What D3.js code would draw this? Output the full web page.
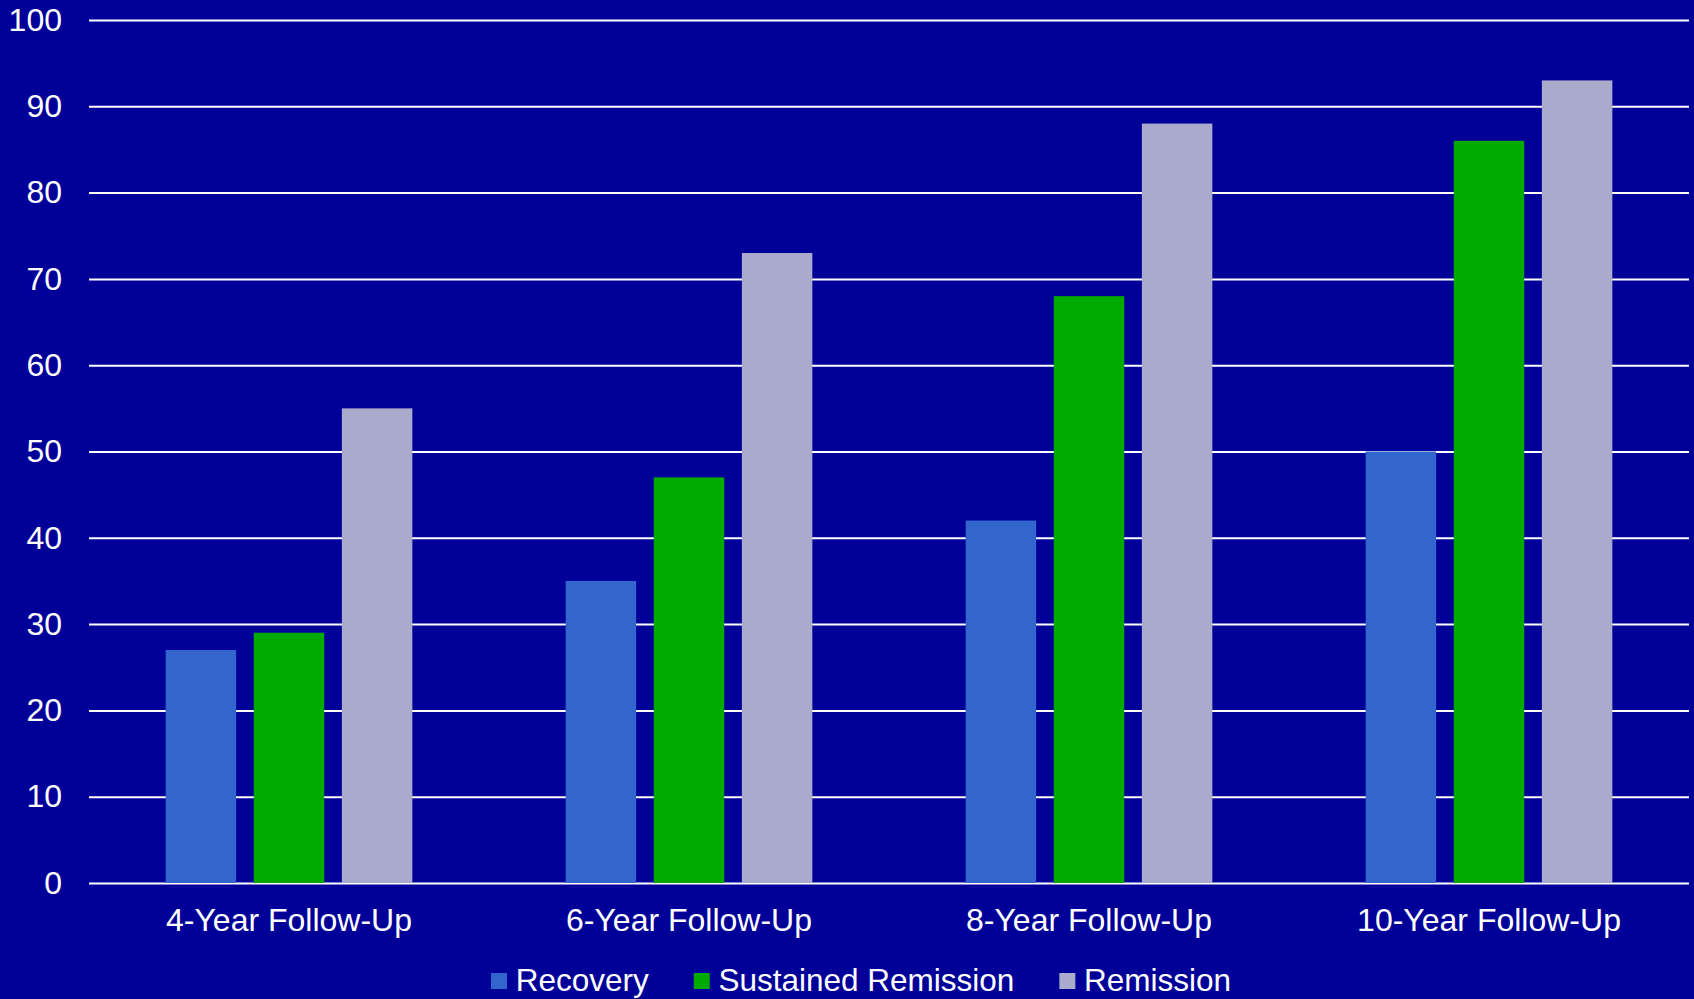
<!DOCTYPE html>
<html>
<head>
<meta charset="utf-8">
<script src="https://cdn.jsdelivr.net/npm/d3@7"></script>
<style>
  html, body { margin: 0; padding: 0; background: #000099; }
  svg { display: block; font-family: "Liberation Sans", Arial, sans-serif; }
</style>
</head>
<body>
<script>
// Data
var categories = ["4-Year Follow-Up", "6-Year Follow-Up", "8-Year Follow-Up", "10-Year Follow-Up"];
var seriesNames = ["Recovery", "Sustained Remission", "Remission"];
var recovery = [27, 35, 42, 50];
var sustainedRemission = [29, 47, 68, 86];
var remission = [55, 73, 88, 93];
var yTicks = [0, 10, 20, 30, 40, 50, 60, 70, 80, 90, 100];

var seriesValues = [recovery, sustainedRemission, remission];
var colors = ["#3366CC", "#00AA00", "#AAAACC"];

// SVG area
var svgWidth = 1694;
var svgHeight = 999;
var margin = { top: 20, right: 5, bottom: 116, left: 89 };
var chartWidth = svgWidth - margin.left - margin.right;
var chartHeight = svgHeight - margin.top - margin.bottom;

var svg = d3.select("body")
    .append("svg")
    .attr("width", svgWidth)
    .attr("height", svgHeight);

svg.append("rect")
    .attr("width", svgWidth)
    .attr("height", svgHeight)
    .attr("fill", "#000099");

var chartGroup = svg.append("g")
    .attr("transform", `translate(${margin.left}, ${margin.top})`);

// scales
var xScale = d3.scaleBand()
    .domain(categories)
    .range([0, chartWidth]);

var xSub = d3.scaleBand()
    .domain(seriesNames)
    .range([0, xScale.bandwidth()])
    .paddingInner(0.2)
    .paddingOuter(0.87);

var yScale = d3.scaleLinear()
    .domain([0, 100])
    .range([chartHeight, 0]);

// y axis with gridlines
var yAxis = d3.axisLeft(yScale)
    .tickValues(yTicks)
    .tickSize(-chartWidth)
    .tickPadding(27);

var yG = chartGroup.append("g").call(yAxis);
yG.select(".domain").remove();
yG.selectAll(".tick line")
    .attr("stroke", "#ffffff")
    .attr("stroke-width", 2);
yG.selectAll(".tick text")
    .attr("fill", "#ffffff")
    .attr("font-size", 32)
    .attr("font-family", "Liberation Sans, Arial, sans-serif");

// bars
var rows = categories.map(function (c, i) {
    return seriesNames.map(function (s, j) {
        return { cat: c, name: s, value: seriesValues[j][i], color: colors[j] };
    });
});

chartGroup.selectAll(".group")
    .data(rows)
    .enter()
    .append("g")
    .attr("class", "group")
    .attr("transform", (d, i) => `translate(${xScale(categories[i])}, 0)`)
    .selectAll("rect")
    .data(d => d)
    .enter()
    .append("rect")
    .attr("x", d => xSub(d.name))
    .attr("width", xSub.bandwidth())
    .attr("y", d => yScale(d.value))
    .attr("height", d => chartHeight - yScale(d.value))
    .attr("fill", d => d.color);

// x axis labels
var xAxis = d3.axisBottom(xScale)
    .tickSize(0)
    .tickPadding(25.5);

var xG = chartGroup.append("g")
    .attr("transform", `translate(0, ${chartHeight})`)
    .call(xAxis);
xG.select(".domain").remove();
xG.selectAll(".tick text")
    .attr("fill", "#ffffff")
    .attr("font-size", 32)
    .attr("font-family", "Liberation Sans, Arial, sans-serif");

// legend along the bottom
var legend = svg.append("g")
    .attr("transform", "translate(491, 0)");

var lx = 0;
seriesNames.forEach(function (name, j) {
    var item = legend.append("g").attr("transform", `translate(${lx}, 0)`);
    item.append("rect")
        .attr("x", 0)
        .attr("y", 973)
        .attr("width", 16)
        .attr("height", 16)
        .attr("fill", colors[j]);
    var t = item.append("text")
        .attr("x", 24.7)
        .attr("y", 991)
        .attr("fill", "#ffffff")
        .attr("font-size", 31.5)
        .text(name);
    lx += 24.7 + t.node().getComputedTextLength() + 45;
});
</script>
</body>
</html>
